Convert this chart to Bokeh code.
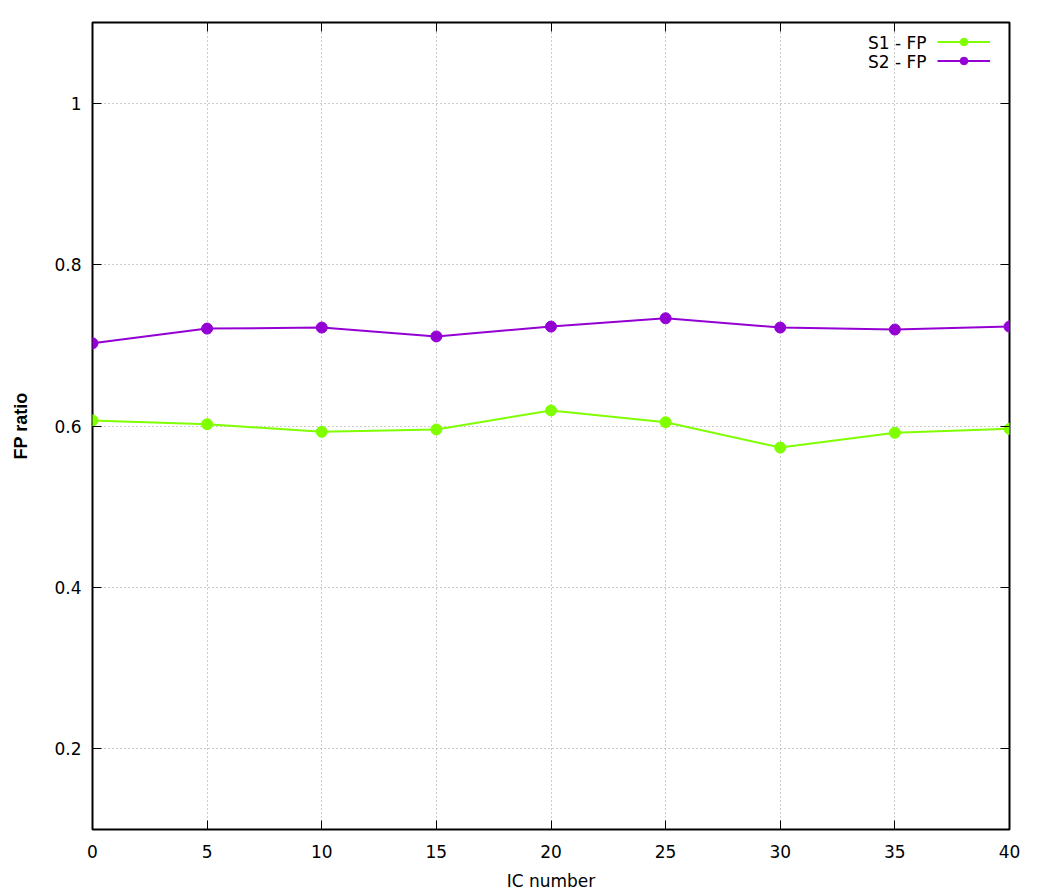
from bokeh.plotting import figure
from bokeh.models import (LinearAxis, FixedTicker, Range1d, Legend, LegendItem, Label,
                          CustomLabelingPolicy)
from bokeh.core.properties import value
from bokeh.embed import file_html
from bokeh.resources import INLINE

ic_number = [0, 5, 10, 15, 20, 25, 30, 35, 40]
s1_fp = [0.6068, 0.6022, 0.5928, 0.5957, 0.6193, 0.6047, 0.5733, 0.5916, 0.5965]
s2_fp = [0.7025, 0.7207, 0.7220, 0.7110, 0.7232, 0.7335, 0.7220, 0.7195, 0.7232]
series_names = ["S1 - FP", "S2 - FP"]
x_ticks = [0, 5, 10, 15, 20, 25, 30, 35, 40]
y_ticks = [0.2, 0.4, 0.6, 0.8, 1.0]

FONT = "DejaVu Sans"
FS = "17px"
GREEN = "#7fff00"
PURPLE = "#9400d3"

p = figure(frame_width=917, frame_height=807, output_backend="svg", toolbar_location=None,
           x_range=Range1d(0, 40), y_range=Range1d(0.1, 1.1),
           min_border_left=92, min_border_top=22, min_border_right=31, min_border_bottom=64,
           x_axis_label="IC number", y_axis_label="FP ratio")
p.background_fill_color = "white"
p.border_fill_color = "white"
p.outline_line_color = "black"
p.outline_line_width = 2

for ax in (p.xaxis[0], p.yaxis[0]):
    ax.axis_line_color = None
    ax.major_tick_in = 9
    ax.major_tick_out = 0
    ax.minor_tick_in = 0
    ax.minor_tick_out = 0
    ax.major_tick_line_color = "black"
    ax.major_tick_line_width = 1
    ax.major_label_text_font = FONT
    ax.major_label_text_font_size = FS
    ax.major_label_text_color = "black"
    ax.axis_label_text_font = FONT
    ax.axis_label_text_font_size = FS
    ax.axis_label_text_font_style = "normal"
    ax.axis_label_text_color = "black"

p.xaxis[0].ticker = FixedTicker(ticks=x_ticks)
p.yaxis[0].ticker = FixedTicker(ticks=y_ticks)
p.yaxis[0].major_label_overrides = {1: "1"}
p.xaxis[0].major_label_standoff = 15
p.xaxis[0].axis_label_standoff = 10
p.yaxis[0].major_label_standoff = 11
p.yaxis[0].axis_label_standoff = 20
p.yaxis[0].axis_label_text_font = "Liberation Sans"
p.yaxis[0].axis_label_text_font_size = "18px"
p.yaxis[0].axis_label_text_font_style = "bold"

hide_all = CustomLabelingPolicy(code="""
const ids = [...indices];
for (const i of ids) indices.unset(i);
return indices;
""")

# mirrored axes (ticks only)
for loc, tk in (("right", y_ticks), ("above", x_ticks)):
    ax = LinearAxis(ticker=FixedTicker(ticks=tk))
    ax.axis_line_color = None
    ax.major_tick_in = 9
    ax.major_tick_out = 0
    ax.minor_tick_in = 0
    ax.minor_tick_out = 0
    ax.major_tick_line_color = "black"
    ax.major_label_text_font_size = "1px"
    ax.major_label_standoff = 0
    ax.major_label_policy = hide_all
    p.add_layout(ax, loc)

p.xgrid.ticker = FixedTicker(ticks=x_ticks)
p.ygrid.ticker = FixedTicker(ticks=y_ticks)
for g in (p.xgrid[0], p.ygrid[0]):
    g.grid_line_color = "#999999"
    g.grid_line_dash = "1 3"
    g.grid_line_width = 1

l1 = p.line(ic_number, s1_fp, line_color=GREEN, line_width=2)
c1 = p.scatter(ic_number, s1_fp, size=11, fill_color=GREEN, line_color=GREEN)
l2 = p.line(ic_number, s2_fp, line_color=PURPLE, line_width=2)
c2 = p.scatter(ic_number, s2_fp, size=11, fill_color=PURPLE, line_color=PURPLE)

legend = Legend(items=[LegendItem(label=value(""), renderers=[l1, c1]),
                       LegendItem(label=value(""), renderers=[l2, c2])],
                location="top_right", glyph_width=53, glyph_height=19, spacing=0,
                label_width=0, label_standoff=9, padding=0, margin=10,
                background_fill_alpha=0, border_line_color=None, label_text_font_size="1px",
                label_height=19)
p.add_layout(legend, "center")

for i, name in enumerate(series_names):
    p.add_layout(Label(x=40, y=1.1, x_offset=-83, y_offset=-20 - 19 * i, text=name,
                       text_align="right", text_baseline="middle",
                       text_font=FONT, text_font_size=FS, text_color="black"))

open("out.html", "w").write(file_html(p, INLINE))
